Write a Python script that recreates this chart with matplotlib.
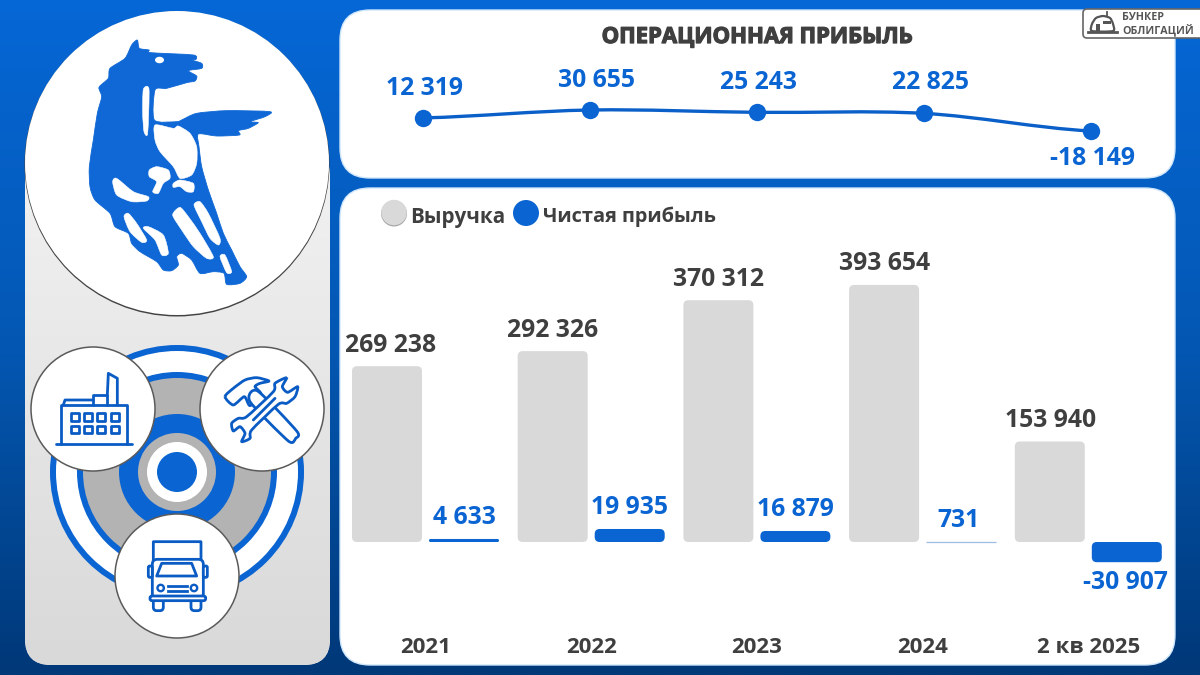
import numpy as np
import matplotlib
matplotlib.use("Agg")
import matplotlib.pyplot as plt
import matplotlib.patheffects as pe
from matplotlib.patches import FancyBboxPatch, Circle, Polygon, Rectangle, PathPatch, Ellipse
from matplotlib.path import Path
from matplotlib.colors import LinearSegmentedColormap

# ---- data ----
op_periods = ["2021", "2022", "2023", "2024", "2 кв 2025"]
op_profit = [12319, 30655, 25243, 22825, -18149]
bar_years = ["2021", "2022", "2023", "2024", "2 кв 2025"]
revenue = [269238, 292326, 370312, 393654, 153940]
net_profit = [4633, 19935, 16879, 731, -30907]
title_text = "ОПЕРАЦИОННАЯ ПРИБЫЛЬ"
legend_labels = ["Выручка", "Чистая прибыль"]
badge_lines = ["БУНКЕР", "ОБЛИГАЦИЙ"]

BLUE = "#0a64d2"
GRAY = "#d9d9d9"
DARK = "#3f3f3f"
FONT = ["Open Sans", "DejaVu Sans"]
plt.rcParams["font.family"] = FONT
plt.rcParams["font.weight"] = "bold"


def fmt(v):
    s = f"{abs(v):,}".replace(",", " ")
    return ("-" if v < 0 else "") + s


fig = plt.figure(figsize=(12, 6.75), dpi=100)
bg = fig.add_axes([0, 0, 1, 1], zorder=0)
bg.axis("off")


def pos(x0, y0, x1, y1):
    return [x0 / 1200, 1 - y1 / 675, (x1 - x0) / 1200, (y1 - y0) / 675]


cm = LinearSegmentedColormap.from_list("b", ["#0667d6", "#0458b4", "#003878"])
bg.imshow(np.linspace(0, 1, 256)[:, None], cmap=cm, extent=(0, 1200, 675, 0), aspect="auto", zorder=0)


def rbox(x0, y0, x1, y1, r, **kw):
    p = FancyBboxPatch((x0, y0), x1 - x0, y1 - y0, boxstyle=f"round,pad=0,rounding_size={r}",
                       linewidth=kw.pop("lw", 0), **kw)
    bg.add_patch(p)
    return p


def smooth_path(pts, closed=True):
    p = np.array(pts, dtype=float)
    n = len(p)
    verts = [tuple(p[0])]
    codes = [Path.MOVETO]
    rng = n if closed else n - 1
    for i in range(rng):
        if closed:
            a, b, c, d = p[(i - 1) % n], p[i], p[(i + 1) % n], p[(i + 2) % n]
        else:
            a, b, c, d = p[max(i - 1, 0)], p[i], p[i + 1], p[min(i + 2, n - 1)]
        k = 0.12
        verts += [tuple(b + (c - a) * k), tuple(c - (d - b) * k), tuple(c)]
        codes += [Path.CURVE4] * 3
    return Path(verts, codes)


lp = rbox(25, 150, 330, 665, 26, fc="#e8e8e8", zorder=1)
cm2 = LinearSegmentedColormap.from_list("g", ["#f2f2f2", "#d9d9d9"])
im = bg.imshow(np.linspace(0, 1, 64)[:, None], cmap=cm2, extent=(25, 330, 665, 150), aspect="auto", zorder=1.1)
im.set_clip_path(lp)

rbox(340, 10, 1175, 178, 30, fc="white", ec="#cfe6fb", lw=1, zorder=1)
rbox(340, 188, 1175, 665, 30, fc="white", ec="#cfe6fb", lw=1, zorder=1)

bg.add_patch(Circle((177, 164), 152.5, fc="#444444", lw=0, zorder=2))
bg.add_patch(Circle((177, 163), 152, fc="white", lw=0, zorder=2.1))


def Z(pts, oy=0):
    return [(x / 3, oy + y / 3) for x, y in pts]


horse = [(412, 120), (418, 145), (447, 150), (452, 158), (580, 165), (588, 178), (575, 180), (605, 190), (605, 205),
         (565, 212), (590, 228), (585, 243), (560, 248), (500, 265), (465, 270), (463, 360), (530, 365), (545, 360),
         (590, 340), (680, 332), (810, 335), (795, 350), (750, 365), (775, 368), (745, 385), (715, 392), (718, 405),
         (650, 408), (595, 402), (597, 440), (605, 500), (625, 570), (650, 640), (670, 700), (695, 750), (720, 800),
         (740, 830), (720, 850), (680, 853), (672, 820), (640, 815), (600, 820), (575, 780), (545, 760), (530, 770),
         (535, 795), (515, 812), (490, 810), (470, 785), (420, 755), (395, 730), (385, 700), (345, 680), (330, 640),
         (285, 600), (270, 560), (268, 500), (280, 420), (292, 340), (305, 290), (297, 262), (325, 235), (330, 205),
         (375, 175), (395, 135)]
bg.add_patch(PathPatch(smooth_path(Z(horse)), fc="#0f68d6", ec="#0f68d6", lw=0.6, zorder=3))
holes = [
    [(465, 375), (520, 385), (535, 378), (570, 400), (590, 440), (590, 490), (575, 525), (540, 535), (520, 500),
     (480, 455), (465, 420)],
    [(430, 268), (447, 268), (443, 400), (432, 395), (428, 340)],
    [(338, 545), (350, 535), (400, 575), (445, 590), (440, 603), (395, 605), (350, 585)],
    [(448, 510), (470, 500), (505, 510), (510, 535), (490, 550), (475, 580), (458, 575), (470, 545), (448, 530)],
    [(520, 550), (540, 540), (580, 550), (580, 575), (560, 575), (540, 560), (520, 562)],
    [(518, 645), (540, 622), (565, 650), (600, 700), (640, 770), (620, 775), (580, 740), (545, 690)],
    [(582, 615), (600, 605), (625, 640), (660, 715), (655, 735), (630, 715), (605, 665)],
    [(372, 650), (385, 640), (410, 670), (440, 720), (425, 727), (390, 695)],
    [(430, 685), (445, 680), (490, 705), (505, 760), (485, 765), (465, 720)],
    [(660, 770), (675, 765), (695, 815), (680, 818)],
]
for h in holes:
    bg.add_patch(PathPatch(smooth_path(Z(h)), fc="white", ec="white", lw=0.4, zorder=3.1))
bg.add_patch(Ellipse((159.5, 60), 9, 6.5, fc="white", lw=0, zorder=3.1))

cx, cy = 177, 472
for i, (r, c) in enumerate([(127, BLUE), (121, "white"), (100, BLUE), (94, "#b3b3b3"), (58, BLUE),
                            (39, "#b3b3b3"), (30, "white"), (20, BLUE)]):
    bg.add_patch(Circle((cx, cy), r, fc=c, lw=0, zorder=4 + i * 0.01))

for (x, y) in [(93, 409), (262, 409), (177, 576)]:
    bg.add_patch(Circle((x, y), 62, fc="white", ec="#5a5a5a", lw=1.1, zorder=5))

IC = "#0a5cc4"
LW = 2.0
ikw = dict(color=IC, lw=LW, zorder=6, solid_joinstyle="round", solid_capstyle="round")


def iline(pts, oy=330):
    a = np.array(Z(pts, oy))
    bg.plot(a[:, 0], a[:, 1], **ikw)


def ipoly(pts, oy=330, z=6, fc="white"):
    bg.add_patch(Polygon(Z(pts, oy), closed=True, fc=fc, ec=IC, lw=LW, joinstyle="round", zorder=z))


# factory
iline([(168, 342), (395, 342)])
iline([(183, 342), (183, 225), (380, 225), (380, 342)])
iline([(190, 225), (195, 210), (280, 210)])
iline([(280, 225), (280, 195), (322, 195), (322, 225)])
iline([(322, 195), (325, 130), (352, 145), (352, 225)])
for wx in [212, 252, 292, 332]:
    for wy in [250, 288]:
        ipoly([(wx, wy), (wx + 24, wy), (wx + 24, wy + 22), (wx, wy + 22)])


# tools, coordinates measured on a 3x crop at (205, 355)
def T(pts):
    return [(205 + x / 3, 355 + y / 3) for x, y in pts]


def tshape(pts, z, smooth=True):
    path = smooth_path(T(pts)) if smooth else Path(T(pts) + [T(pts)[0]])
    bg.add_patch(PathPatch(path, fc="white", ec=IC, lw=LW, joinstyle="round", zorder=z))


tshape([(60, 125), (85, 100), (120, 75), (155, 68), (192, 78), (165, 85), (150, 95), (168, 118), (135, 152),
        (118, 125), (85, 150)], 6)
tshape([(158, 108), (275, 228), (272, 250), (250, 258), (135, 140)], 6.1)
tshape([(245, 68), (232, 95), (248, 112), (278, 95), (270, 125), (245, 145), (220, 148), (140, 225), (135, 250),
        (110, 260), (120, 235), (105, 215), (85, 228), (80, 205), (100, 190), (125, 185), (205, 110), (210, 85)], 6.2)
t = np.array(T([(145, 195), (210, 130)]))
bg.plot(t[:, 0], t[:, 1], color=IC, lw=LW, zorder=6.3, solid_capstyle="round")


# truck, coordinates measured on a 3x crop at (135, 530)
def K(x, y):
    return 135 + x / 3, 530 + y / 3


def kbox(x0, y0, x1, y1, r, z=6):
    a, b = K(x0, y0), K(x1, y1)
    rbox(a[0], a[1], b[0], b[1], r, fc="white", ec=IC, lw=LW, zorder=z)


kbox(55, 35, 198, 110, 0.5, 6)
kbox(52, 88, 205, 205, 5, 6.1)
kbox(40, 108, 52, 142, 1.5, 6.1)
kbox(205, 108, 217, 142, 1.5, 6.1)
w_pts = [K(80, 100), K(170, 100), K(185, 138), K(65, 138)]
bg.add_patch(Polygon(w_pts, closed=True, fc="white", ec=IC, lw=LW, joinstyle="round", zorder=6.2))
for hx in [77, 177]:
    bg.add_patch(Circle(K(hx, 174), 3.2, fc="white", ec=IC, lw=1.7, zorder=6.2))
for gy in [167, 182]:
    g = np.array([K(100, gy), K(155, gy)])
    bg.plot(g[:, 0], g[:, 1], color=IC, lw=LW, zorder=6.2)
kbox(55, 205, 85, 242, 3.5, 6.2)
kbox(168, 205, 198, 242, 3.5, 6.2)
kbox(45, 198, 212, 212, 2, 6.3)

# badge
rbox(1083, 9, 1215, 38, 4, fc="white", ec="#666666", lw=1.2, zorder=7)
dome = [(1092, 31), (1092, 24), (1096, 18), (1103, 16), (1110, 18), (1113, 24), (1113, 31)]
bg.add_patch(PathPatch(smooth_path(dome), fc="white", ec="#555555", lw=1.6, zorder=7.1))
bg.plot([1088, 1117], [31.5, 31.5], color="#555555", lw=2, zorder=7.2)
bg.add_patch(Rectangle((1096, 24), 4, 7, fc="#555555", lw=0, zorder=7.2))
bg.add_patch(Rectangle((1103, 21), 8, 3, fc="#555555", lw=0, zorder=7.2))
bg.plot([1107, 1107], [12, 16], color="#555555", lw=1.3, zorder=7.1)
for t_, y in zip(badge_lines, [17, 31]):
    bg.text(1122, y, t_, fontsize=7.7, color="#555555", va="center", ha="left", zorder=7.2)

# titles and legend
bg.text(757.5, 37.5, title_text, fontsize=15.9, color=DARK, ha="center", va="center", zorder=7,
        path_effects=[pe.withStroke(linewidth=0.9, foreground=DARK)])
bg.add_patch(Circle((394, 213.5), 13, fc="#aaaaaa", lw=0, zorder=6.9))
bg.add_patch(Circle((394, 212.5), 12.7, fc=GRAY, lw=0, zorder=7))
bg.add_patch(Circle((526, 213), 13, fc=BLUE, lw=0, zorder=7))
bg.text(410, 217, legend_labels[0], fontsize=14.9, color=DARK, ha="left", va="center", zorder=7)
bg.text(543, 217, legend_labels[1], fontsize=14.3, color=DARK, ha="left", va="center", zorder=7)

bg.set_xlim(0, 1200)
bg.set_ylim(675, 0)

# ---- operating profit line ----
ax1 = fig.add_axes(pos(340, 10, 1175, 178), zorder=2)
ax1.patch.set_alpha(0)
ax1.axis("off")
px_per = 0.00043
zero1 = 123.2
ax1.set_xlim((340 - 423) / 167, (1175 - 423) / 167)
ax1.set_ylim(-(178 - zero1) / px_per, (zero1 - 10) / px_per)
xs = np.arange(len(op_profit), dtype=float)
ys = np.array(op_profit, dtype=float)
verts = [(xs[0], ys[0])]
codes = [Path.MOVETO]
for i in range(len(xs) - 1):
    m0 = (ys[min(i + 1, len(ys) - 1)] - ys[max(i - 1, 0)]) / 2
    m1 = (ys[min(i + 2, len(ys) - 1)] - ys[i]) / 2
    verts += [(xs[i] + 1 / 3, ys[i] + m0 / 3), (xs[i + 1] - 1 / 3, ys[i + 1] - m1 / 3), (xs[i + 1], ys[i + 1])]
    codes += [Path.CURVE4] * 3
ax1.add_patch(PathPatch(Path(verts, codes), fill=False, ec="#0a5fc8", lw=2.4))
ax1.plot(xs, ys, "o", color=BLUE, ms=12.5, mew=0)
lab_off = [(1, 29), (6, 30), (1, 30), (6, 31), (1, -27)]
for x, v, (dx, dy) in zip(xs, op_profit, lab_off):
    ax1.annotate(fmt(v), (x, v), xytext=(dx * 0.72, dy * 0.72), textcoords="offset points", ha="center",
                 va="center", fontsize=17.8, color=BLUE)

# ---- bars ----
ax2 = fig.add_axes(pos(340, 200, 1175, 637), zorder=2)
ax2.patch.set_alpha(0)
scale = 0.000653
zero2 = 542
xu = 165.7
ax2.set_xlim((340 - 425.5) / xu, (1175 - 425.5) / xu)
ax2.set_ylim(-(637 - zero2) / scale, (zero2 - 200) / scale)
for s in ax2.spines.values():
    s.set_visible(False)
ax2.set_yticks([])
ax2.set_xticks(np.arange(len(bar_years)))
ax2.set_xticklabels(bar_years, fontsize=16, color=DARK)
ax2.tick_params(axis="x", length=0, pad=0)
w = 70 / xu
off = 38.5 / xu
asp = (1 / scale) / (1 / xu)


def bar(xc, v, color):
    h = abs(v)
    y0 = min(v, 0)
    if h * scale < 2:
        ax2.add_patch(Rectangle((xc - w / 2, y0), w, h, fc="#9dbde2", ec="#9dbde2", lw=0.9))
        return
    r_px = min(5.0, h * scale / 2)
    ax2.add_patch(FancyBboxPatch((xc - w / 2, y0), w, h, boxstyle=f"round,pad=0,rounding_size={r_px / xu}",
                                 mutation_aspect=asp, fc=color, lw=0))


rev_dx = [4, 0, 0, 0, 1]
net_dx = [0, 0, 0, -3, -1]
for i, (r, n) in enumerate(zip(revenue, net_profit)):
    bar(i - off, r, GRAY)
    bar(i + off, n, BLUE)
    ax2.annotate(fmt(r), (i - off, r), xytext=(rev_dx[i] * 0.72, 21 * 0.72), textcoords="offset points",
                 ha="center", va="center", fontsize=17.8, color=DARK)
    dy = 21 if n >= 0 else -20
    ax2.annotate(fmt(n), (i + off, n), xytext=(net_dx[i] * 0.72, dy * 0.72), textcoords="offset points",
                 ha="center", va="center", fontsize=17.8, color=BLUE)

fig.savefig("out.png", dpi=100)
